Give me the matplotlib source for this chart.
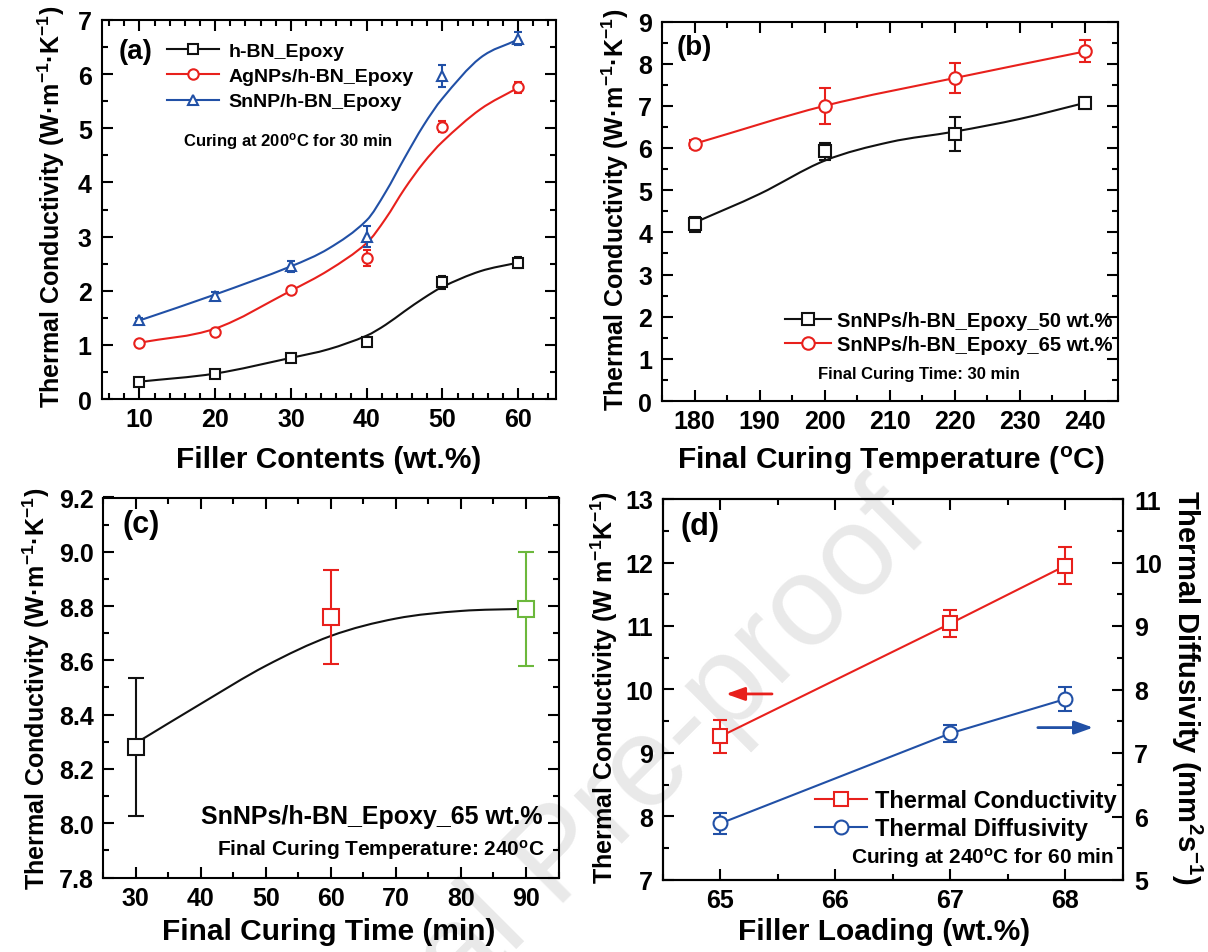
import numpy as np
import matplotlib
matplotlib.use("Agg")
import matplotlib.pyplot as plt
from matplotlib.path import Path
from matplotlib.patches import PathPatch
from matplotlib.lines import Line2D
from matplotlib.ticker import MultipleLocator, FormatStrFormatter

plt.rcParams['font.family'] = ['Liberation Sans', 'DejaVu Sans']
plt.rcParams['font.weight'] = 'bold'
plt.rcParams['mathtext.default'] = 'regular'
plt.rcParams['axes.linewidth'] = 1.5

# ---------------- data ----------------
# (a) filler content series
filler_wt = [10, 20, 30, 40, 50, 60]
bn_k = [0.32, 0.46, 0.75, 1.05, 2.16, 2.52]
bn_err = [0.04, 0.04, 0.05, 0.06, 0.12, 0.10]
ag_k = [1.03, 1.24, 2.01, 2.60, 5.03, 5.76]
ag_err = [0.04, 0.05, 0.05, 0.15, 0.10, 0.10]
sn_k = [1.45, 1.91, 2.45, 3.00, 5.97, 6.65]
sn_err = [0.05, 0.06, 0.10, 0.20, 0.20, 0.12]
# (a) fitted trend curves
fit_wt = [10, 20, 30, 35, 40, 42.5, 45, 47.5, 50, 55, 60]
bn_fit = [0.32, 0.47, 0.76, 0.92, 1.17, 1.37, 1.62, 1.86, 2.07, 2.36, 2.52]
ag_fit = [1.04, 1.30, 2.00, 2.38, 2.88, 3.33, 3.88, 4.36, 4.75, 5.35, 5.75]
sn_fit = [1.45, 1.93, 2.45, 2.78, 3.30, 3.82, 4.45, 5.05, 5.55, 6.30, 6.64]
series_a = ["h-BN_Epoxy", "AgNPs/h-BN_Epoxy", "SnNP/h-BN_Epoxy"]

# (b) final curing temperature
cure_temp = [180, 200, 220, 240]
k50 = [4.19, 5.92, 6.33, 7.07]
k50_err = [0.18, 0.20, 0.41, 0.14]
k65 = [6.10, 7.00, 7.66, 8.29]
k65_err = [0.10, 0.43, 0.36, 0.26]
fit_temp = [180, 190, 200, 210, 220, 230, 240]
k50_fit = [4.23, 4.91, 5.70, 6.14, 6.39, 6.69, 7.07]
series_b = ["SnNPs/h-BN_Epoxy_50 wt.%", "SnNPs/h-BN_Epoxy_65 wt.%"]

# (c) final curing time
cure_time = [30, 60, 90]
k_time = [8.28, 8.76, 8.79]
k_time_err = [0.255, 0.174, 0.21]
fit_time = [30, 40, 50, 60, 70, 80, 90]
k_time_fit = [8.295, 8.44, 8.58, 8.69, 8.754, 8.782, 8.79]

# (d) filler loading
loading = [65, 67, 68]
tc = [9.26, 11.04, 11.95]
tc_err = [0.26, 0.21, 0.29]
td = [5.89, 7.31, 7.85]
td_err = [0.165, 0.135, 0.19]

BLACK = '#111111'
RED = '#e8201c'
BLUE = '#2150a6'
GREEN = '#6cb83c'

W, H = 1208, 953
fig = plt.figure(figsize=(W / 100, H / 100), dpi=100)
fig.patch.set_facecolor('white')


def px_axes(l, t, r, b):
    ax = fig.add_axes([l / W, 1 - b / H, (r - l) / W, (b - t) / H])
    ax.set_facecolor('none')
    return ax


def ftext(x, y, s, **kw):
    kw.setdefault('ha', 'center')
    kw.setdefault('va', 'center')
    return fig.text(x / W, 1 - y / H, s, **kw)


def style(ax, xmaj, xmin, ymaj, ymin, right=True):
    ax.xaxis.set_major_locator(MultipleLocator(xmaj))
    ax.xaxis.set_minor_locator(MultipleLocator(xmin))
    ax.yaxis.set_major_locator(MultipleLocator(ymaj))
    ax.yaxis.set_minor_locator(MultipleLocator(ymin))
    ax.tick_params(which='both', direction='in', top=True, right=right,
                   width=1.5, labelsize=18)
    ax.tick_params(which='major', length=8)
    ax.tick_params(which='minor', length=4)
    ax.tick_params(axis='x', pad=6)
    ax.tick_params(axis='y', pad=7)


def smooth_curve(ax, xs, ys, color, lw=1.5):
    """Cubic Bezier path through the given knots."""
    x = np.asarray(xs, float)
    y = np.asarray(ys, float)
    m = np.empty_like(y)
    m[1:-1] = (y[2:] - y[:-2]) / (x[2:] - x[:-2])
    m[0] = (y[1] - y[0]) / (x[1] - x[0])
    m[-1] = (y[-1] - y[-2]) / (x[-1] - x[-2])
    verts = [(x[0], y[0])]
    codes = [Path.MOVETO]
    for i in range(len(x) - 1):
        h = x[i + 1] - x[i]
        verts += [(x[i] + h / 3, y[i] + m[i] * h / 3),
                  (x[i + 1] - h / 3, y[i + 1] - m[i + 1] * h / 3),
                  (x[i + 1], y[i + 1])]
        codes += [Path.CURVE4] * 3
    ax.add_patch(PathPatch(Path(verts, codes), fill=False, edgecolor=color,
                           lw=lw, zorder=2))


def points(ax, x, y, e, color, marker, ms, capsize=4):
    ax.errorbar(x, y, yerr=e, fmt='none', ecolor=color, elinewidth=1.5,
                capsize=capsize, capthick=1.5, zorder=3)
    ax.plot(x, y, ls='none', marker=marker, ms=ms, mfc='white', mec=color,
            mew=1.5, zorder=4)


def proxy(color, marker, ms):
    return Line2D([0], [0], color=color, lw=1.5, marker=marker, ms=ms,
                  mfc='white', mec=color, mew=1.5)


# ---------------- (a) ----------------
axa = px_axes(101.5, 21, 556, 400)
for yv, ev, fv, c, mk in [(bn_k, bn_err, bn_fit, BLACK, 's'),
                          (ag_k, ag_err, ag_fit, RED, 'o'),
                          (sn_k, sn_err, sn_fit, BLUE, '^')]:
    smooth_curve(axa, fit_wt, fv, c)
    points(axa, filler_wt, yv, ev, c, mk, 7.5, capsize=3)
axa.set_xlim(5, 65)
axa.set_ylim(0, 7)
style(axa, 10, 2, 1, 0.5)
axa.legend([proxy(BLACK, 's', 7.5), proxy(RED, 'o', 7.5), proxy(BLUE, '^', 7.5)],
           series_a, loc='upper left', bbox_to_anchor=(0.144, 0.942),
           frameon=False, fontsize=14, handlelength=2.7, handletextpad=0.45,
           labelspacing=0.4, borderpad=0, borderaxespad=0)
ftext(135.5, 52, "(a)", fontsize=20)
ftext(288.5, 142, "Curing at 200$^{o}$C for 30 min", fontsize=12)
ftext(328.8, 460, "Filler Contents (wt.%)", fontsize=21.5)
ftext(51.7, 207, "Thermal Conductivity (W·m$^{-1}$·K$^{-1}$)", fontsize=18,
      rotation=90)

# ---------------- (b) ----------------
axb = px_axes(662, 22.5, 1117.5, 402)
smooth_curve(axb, fit_temp, k50_fit, BLACK)
points(axb, cure_temp, k50, k50_err, BLACK, 's', 8)
smooth_curve(axb, cure_temp, k65, RED)
points(axb, cure_temp, k65, k65_err, RED, 'o', 9)
axb.set_xlim(175, 245)
axb.set_ylim(0, 9)
style(axb, 10, 5, 1, 0.5)
axb.legend([proxy(BLACK, 's', 8), proxy(RED, 'o', 9)], series_b,
           loc='upper left', bbox_to_anchor=(0.27, 0.237), frameon=False,
           fontsize=14.5, handlelength=2.3, handletextpad=0.3,
           labelspacing=0.25, borderpad=0, borderaxespad=0)
ftext(694.5, 48, "(b)", fontsize=20)
ftext(919, 375, "Final Curing Time: 30 min", fontsize=12)
ftext(891, 461, "Final Curing Temperature ($^{o}$C)", fontsize=21.5)
ftext(615.5, 210, "Thermal Conductivity (W·m$^{-1}$·K$^{-1}$)", fontsize=18,
      rotation=90)

# ---------------- (c) ----------------
axc = px_axes(103.3, 498.5, 558.5, 878.5)
smooth_curve(axc, fit_time, k_time_fit, BLACK)
for xv, yv, ev, c in zip(cure_time, k_time, k_time_err, [BLACK, RED, GREEN]):
    points(axc, [xv], [yv], [ev], c, 's', 11, capsize=6)
axc.set_xlim(25, 95)
axc.set_ylim(7.8, 9.2)
style(axc, 10, 5, 0.2, 0.1)
axc.yaxis.set_major_formatter(FormatStrFormatter('%.1f'))
ftext(141.5, 525, "(c)", fontsize=22)
ftext(542.7, 817, "SnNPs/h-BN_Epoxy_65 wt.%", fontsize=18, ha='right')
ftext(545, 850, "Final Curing Temperature: 240$^{o}$C", fontsize=15, ha='right')
ftext(329, 931.7, "Final Curing Time (min)", fontsize=21.5)
ftext(36, 689, "Thermal Conductivity (W·m$^{-1}$·K$^{-1}$)", fontsize=18,
      rotation=90)

# ---------------- (d) ----------------
axd = px_axes(662.7, 500, 1123, 881)
axd2 = axd.twinx()
axd2.set_facecolor('none')
axd.plot(loading, tc, color=RED, lw=1.5, zorder=2)
points(axd, loading, tc, tc_err, RED, 's', 10, capsize=5)
axd2.plot(loading, td, color=BLUE, lw=1.5, zorder=2)
points(axd2, loading, td, td_err, BLUE, 'o', 10, capsize=5)
axd.set_xlim(64.5, 68.5)
axd.set_ylim(7, 13)
axd2.set_ylim(5, 11)
style(axd, 1, 0.5, 1, 0.5, right=False)
axd2.yaxis.set_major_locator(MultipleLocator(1))
axd2.yaxis.set_minor_locator(MultipleLocator(0.5))
axd2.tick_params(which='both', direction='in', width=1.5, labelsize=18, pad=8)
axd2.tick_params(which='major', length=8)
axd2.tick_params(which='minor', length=4)
axd.annotate('', xy=(65.05, 9.93), xytext=(65.45, 9.93),
             arrowprops=dict(arrowstyle='-|>,head_length=0.7,head_width=0.25',
                             color=RED, lw=2, mutation_scale=16,
                             shrinkA=0, shrinkB=0))
axd2.annotate('', xy=(68.24, 7.4), xytext=(67.76, 7.4),
              arrowprops=dict(arrowstyle='-|>,head_length=0.7,head_width=0.25',
                              color=BLUE, lw=2, mutation_scale=16,
                              shrinkA=0, shrinkB=0))
axd2.legend([proxy(RED, 's', 10), proxy(BLUE, 'o', 10)],
            ["Thermal Conductivity", "Thermal Diffusivity"],
            loc='upper left', bbox_to_anchor=(0.331, 0.239), frameon=False,
            fontsize=17, handlelength=2.2, handletextpad=0.34,
            labelspacing=0.22, borderpad=0, borderaxespad=0)
ftext(700, 527, "(d)", fontsize=22)
ftext(1114.5, 858, "Curing at 240$^{o}$C for 60 min", fontsize=15, ha='right')
ftext(884, 931.7, "Filler Loading (wt.%)", fontsize=21.5)
ftext(604, 688, "Thermal Conductivity (W m$^{-1}$K$^{-1}$)", fontsize=18,
      rotation=90)
ftext(1187, 687, "Thermal Diffusivity (mm$^{2}$s$^{-1}$)", fontsize=21,
      rotation=270)

# diagonal watermark behind the panels
ftext(560, 859, "Journal Pre-proof", fontsize=92, fontweight='normal',
      color='#e9e9e9', rotation=45, rotation_mode='anchor', zorder=-1)

fig.savefig("out.png", dpi=100, facecolor='white')
